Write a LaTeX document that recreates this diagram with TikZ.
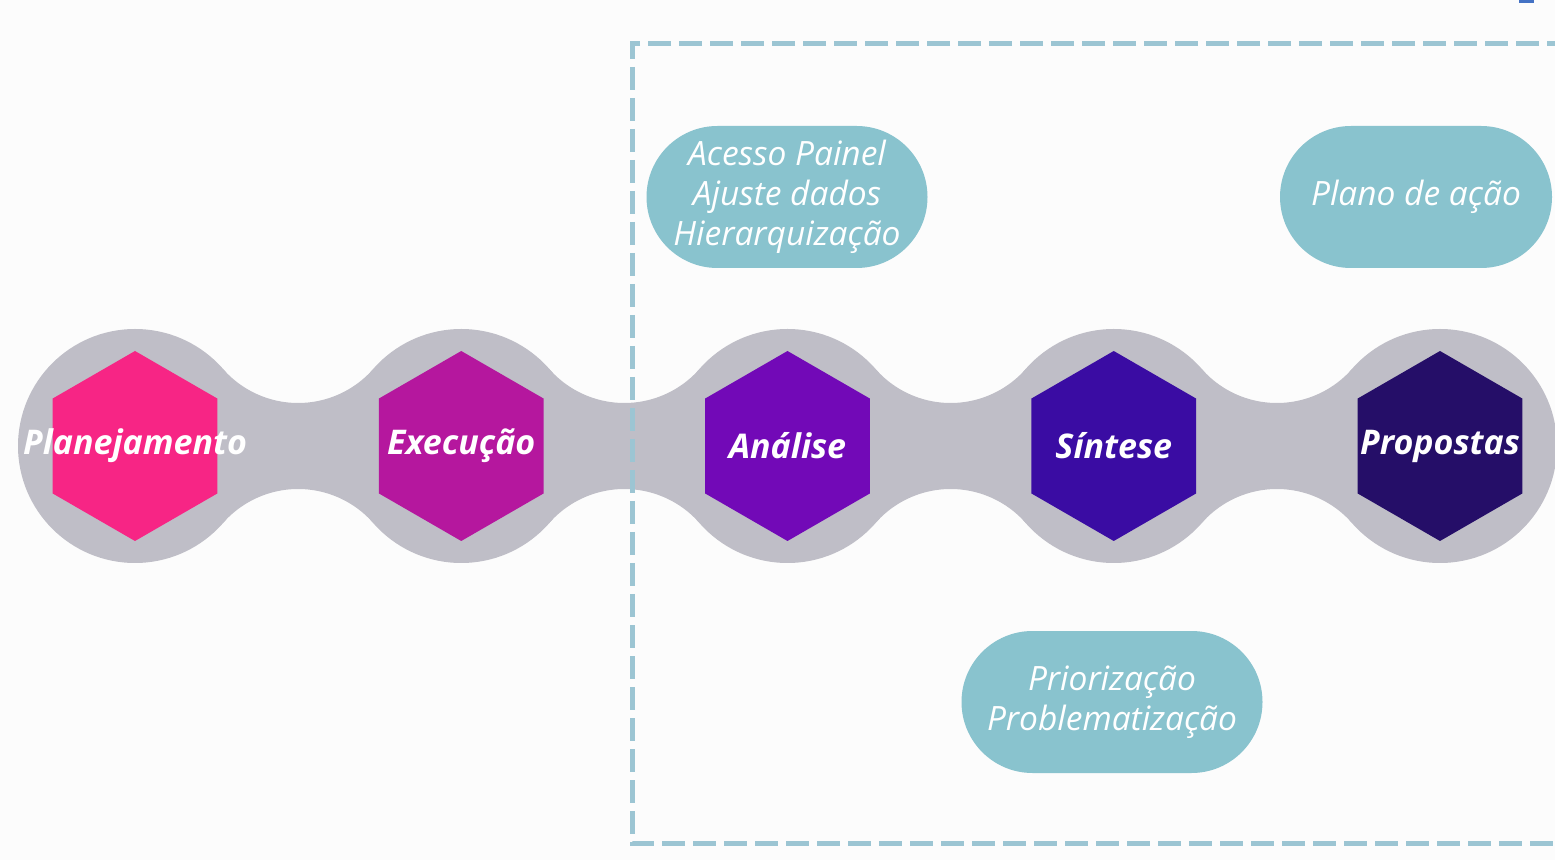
\documentclass[tikz,border=0pt]{standalone}
\usepackage{fontspec}
\setmainfont{Open Sans}
\usetikzlibrary{shapes.geometric}

\definecolor{pagebg}{HTML}{FCFCFC}
\definecolor{ringgray}{HTML}{BFBEC7}
\definecolor{pillteal}{HTML}{89C3CE}
\definecolor{dashteal}{HTML}{9CC5D3}
\definecolor{markblue}{HTML}{4472C4}
\definecolor{hexpink}{HTML}{F72585}
\definecolor{hexmagenta}{HTML}{B5179E}
\definecolor{hexpurple}{HTML}{7209B7}
\definecolor{hexindigo}{HTML}{3A0CA3}
\definecolor{hexnight}{HTML}{250E68}

\begin{document}
\begin{tikzpicture}[x=1pt, y=1pt, node distance=326.25pt]
        \tikzstyle{disc} = [circle, fill=ringgray, minimum size=234pt, inner sep=0pt]
        \tikzstyle{hexa} = [regular polygon, regular polygon sides=6, shape border rotate=30, minimum size=190pt, inner sep=0pt]
        \tikzstyle{hextext} = [text=white, font=\fontsize{34}{40}\selectfont\bfseries\itshape]
        \tikzstyle{pill} = [rectangle, rounded corners=71pt, minimum height=142pt, fill=pillteal, text=white, align=center, font=\fontsize{33.5}{40}\selectfont\itshape]
        \tikzstyle{dashline} = [dashteal, line width=5pt, dash pattern=on 23pt off 8pt]

        \useasboundingbox (0,0) rectangle (1555,860);
        \fill[pagebg] (0,0) rectangle (1555,860);
        \fill[markblue] (1519,857) rectangle (1534,860);

        % Chain
        \foreach \cx in {135, 461.25, 787.5, 1113.75, 1440}
            \node[disc] at (\cx,414) {};
        \foreach \mx in {298.125, 624.375, 950.625, 1276.875}
            \fill[ringgray] ([shift={(221.2:100)}]\mx,557) arc[start angle=221.2, end angle=318.8, radius=100]
                -- ([shift={(41.2:100)}]\mx,271) arc[start angle=41.2, end angle=138.8, radius=100] -- cycle;

        % Frame
        \draw[dashline] (1570,816) -- (632,816) -- (632,17) -- (1570,17);

        % Nodes
        \node (plan) [hexa, fill=hexpink, label={[hextext]center:Planejamento}] at (135,414) {};
        \node (exec) [hexa, fill=hexmagenta, right of=plan, label={[hextext]center:Execução}] {};
        \node (anal) [hexa, fill=hexpurple, right of=exec, label={[hextext]center:Análise}] {};
        \node (sint) [hexa, fill=hexindigo, right of=anal, label={[hextext]center:Síntese}] {};
        \node (prop) [hexa, fill=hexnight, right of=sint, label={[hextext]center:Propostas}] {};

        \node (acesso) [pill, minimum width=281pt] at (787,663) {Acesso Painel\\Ajuste dados\\Hierarquização};
        \node (plano) [pill, minimum width=272pt] at (1416,663) {Plano de ação};
        \node (prior) [pill, minimum width=301pt] at (1112,158) {Priorização\\Problematização};

    \end{tikzpicture}
\end{document}
